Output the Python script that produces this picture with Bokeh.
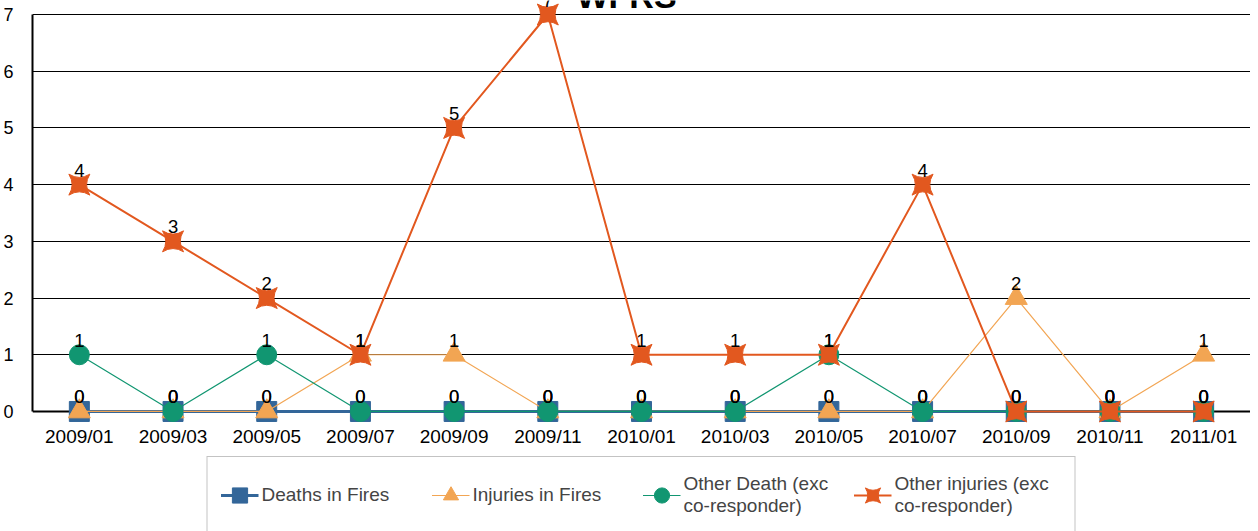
from bokeh.plotting import figure
from bokeh.models import (FactorRange, Range1d, FixedTicker, Span, Label, LabelSet,
                          ColumnDataSource, Legend, LegendItem)
from bokeh.core.properties import value
from bokeh.embed import file_html
from bokeh.resources import INLINE

# ---------------- data ----------------
months = ["2009/01", "2009/03", "2009/05", "2009/07", "2009/09", "2009/11", "2010/01",
          "2010/03", "2010/05", "2010/07", "2010/09", "2010/11", "2011/01"]
deaths_in_fires = [0, 0, 0, 0, 0, 0, 0, 0, 0, 0, 0, 0, 0]
injuries_in_fires = [0, 0, 0, 1, 1, 0, 0, 0, 0, 0, 2, 0, 1]
other_death = [1, 0, 1, 0, 0, 0, 0, 0, 1, 0, 0, 0, 0]
other_injuries = [4, 3, 2, 1, 5, 7, 1, 1, 1, 4, 0, 0, 0]
y_ticks = [0, 1, 2, 3, 4, 5, 6, 7]
series_names = ["Deaths in Fires", "Injuries in Fires",
                "Other Death (exc\nco-responder)", "Other injuries (exc\nco-responder)"]
chart_title = "WFRS"

# ---------------- styles ----------------
FONT = "Liberation Sans"
BLUE = "#336699"
ORANGE = "#F2A553"
GREEN = "#119671"
RED = "#E2581F"
PX = 56.71          # pixels per y unit
FRAME_H = 531       # frame height in px
TOP = 7 + 14 / PX

p = figure(width=1250, height=531,
           x_range=FactorRange(*months),
           y_range=Range1d(TOP - FRAME_H / PX, TOP),
           output_backend="svg", toolbar_location=None,
           min_border_left=25, min_border_right=0, min_border_top=0,
           min_border_bottom=0)
p.title.visible = False
p.outline_line_color = None
p.background_fill_color = "white"
p.border_fill_color = "white"
p.styles = {"margin-bottom": "-8px"}

# axes
p.yaxis.ticker = FixedTicker(ticks=y_ticks)
p.yaxis.bounds = (0, 7)
p.yaxis.axis_line_color = "black"
p.yaxis.axis_line_width = 2
p.yaxis.major_tick_line_color = None
p.yaxis.minor_tick_line_color = None
p.yaxis.major_label_standoff = 13
p.yaxis.major_label_text_font = FONT
p.yaxis.major_label_text_font_size = "18px"
p.yaxis.major_label_text_color = "black"

p.xaxis.fixed_location = 0
p.xaxis.axis_line_color = None
p.xaxis.major_tick_line_color = None
p.xaxis.minor_tick_line_color = None
p.xaxis.major_label_standoff = 9
p.xaxis.major_label_text_font = FONT
p.xaxis.major_label_text_font_size = "19px"
p.xaxis.major_label_text_color = "black"

p.xgrid.visible = False
p.ygrid.ticker = FixedTicker(ticks=y_ticks[1:])
p.ygrid.grid_line_color = "black"
p.ygrid.grid_line_width = 1

zero_line = Span(location=0, dimension="width", line_color="black", line_width=2,
                 level="underlay")
p.add_layout(zero_line)

# series
l1 = p.line(months, deaths_in_fires, line_color=BLUE, line_width=3)
s1 = p.scatter(months, deaths_in_fires, marker="square", size=20,
               fill_color=BLUE, line_color=BLUE)
l2 = p.line(months, injuries_in_fires, line_color=ORANGE, line_width=1.2)
s2 = p.scatter(months, injuries_in_fires, marker="triangle", size=22,
               fill_color=ORANGE, line_color=ORANGE)
l3 = p.line(months, other_death, line_color=GREEN, line_width=1.2)
s3 = p.scatter(months, other_death, marker="circle", size=20,
               fill_color=GREEN, line_color=GREEN)
l4 = p.line(months, other_injuries, line_color=RED, line_width=2)
s4 = p.scatter(months, other_injuries, marker="square_pin", size=21,
               fill_color=RED, line_color=RED)

# value labels
for vals in (deaths_in_fires, injuries_in_fires, other_death, other_injuries):
    src = ColumnDataSource(dict(x=months, y=vals, t=[str(v) for v in vals]))
    p.add_layout(LabelSet(x="x", y="y", text="t", source=src, y_offset=8,
                          text_align="center", text_baseline="alphabetic",
                          text_font=value(FONT), text_font_size="18.5px",
                          text_color="black"))

# title (partially above the page)
p.add_layout(Label(x=6.34, y=415 / PX, text=chart_title, text_align="center",
                   text_baseline="alphabetic", text_font=FONT, text_font_size="34px",
                   text_font_style="bold", text_color="black"))

legend = Legend(items=[LegendItem(label=series_names[0], renderers=[l1, s1]),
                       LegendItem(label=series_names[1], renderers=[l2, s2]),
                       LegendItem(label=series_names[2], renderers=[l3, s3]),
                       LegendItem(label=series_names[3], renderers=[l4, s4])],
                orientation="horizontal", location="bottom_center",
                margin=-3, padding=13, spacing=3, glyph_width=38, glyph_height=40,
                label_height=50, label_width=167, label_standoff=3,
                label_text_font=FONT, label_text_font_size="19px",
                label_text_line_height=1.15,
                border_line_color="#888888", border_line_width=1,
                background_fill_color="white", background_fill_alpha=1)
p.add_layout(legend, "center")

open("out.html", "w").write(file_html(p, INLINE))
